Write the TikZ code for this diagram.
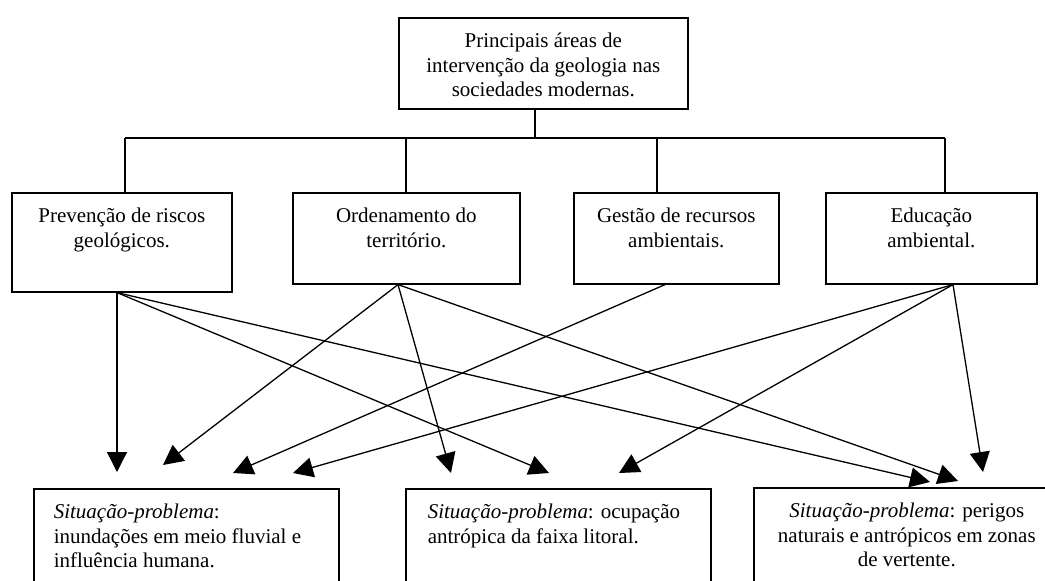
\documentclass[tikz,border=0pt]{standalone}
\usepackage{fontspec}
\setmainfont{Liberation Serif}
\usetikzlibrary{arrows.meta}
\newcommand\boxtxt[4]{\parbox[t][#2pt][t]{#1pt}{#3\rule{0pt}{30pt}#4}}
\begin{document}
\begin{tikzpicture}[x=1pt,y=-1pt,
  box/.style={draw, line width=1.6pt, inner sep=0pt, anchor=north west,
              font=\fontsize{21}{24.5}\selectfont},
  link/.style={line width=1.3pt},
  arr/.style={line width=1.3pt, -{Triangle[length=20pt,width=20pt]}}]
\useasboundingbox (0,0) rectangle (1045,581);
\clip (0,0) rectangle (1045,581);

% top box
\node[box] (top) at (398,17) {\boxtxt{289}{91}{\centering}{Principais áreas de\\intervenção da geologia nas\\sociedades modernas.}};

% middle row
\node[box] (p1) at (11,192)  {\boxtxt{220}{99}{\centering}{Prevenção de riscos\\geológicos.}};
\node[box] (p2) at (292,192) {\boxtxt{227}{91}{\centering}{Ordenamento do\\território.}};
\node[box] (p3) at (573,192) {\boxtxt{205}{91}{\centering}{Gestão de recursos\\ambientais.}};
\node[box] (p4) at (825,192) {\boxtxt{211}{91}{\centering}{Educação\\ambiental.}};

% bottom row
\node[box] (sA) at (33,488)  {\boxtxt{305}{120}{\raggedright\leftskip=20pt}{\textit{Situação-problema}:\\inundações em meio fluvial e\\influência humana.}};
\node[box] (sB) at (405,488) {\boxtxt{305}{120}{\raggedright\leftskip=22pt}{\textit{Situação-problema}: ocupação\\antrópica da faixa litoral.}};
\node[box] (sC) at (753,487) {\boxtxt{306}{120}{\centering}{\textit{Situação-problema}: perigos\\naturais e antrópicos em zonas\\de vertente.}};

% tree connectors
\coordinate (bus) at (535,138);
\coordinate (j1) at (125,138);
\coordinate (j2) at (406,138);
\coordinate (j3) at (657,138);
\coordinate (j4) at (945,138);
\draw[link] (bus |- top.south) -- (bus);
\draw[link] (j1) -- (j4);
\draw[link] (j1) -- (j1 |- p1.north);
\draw[link] (j2) -- (j2 |- p2.north);
\draw[link] (j3) -- (j3 |- p3.north);
\draw[link] (j4) -- (j4 |- p4.north);

% arrow origins
\coordinate (s1) at ([xshift=106pt]p1.south west);
\coordinate (s2) at ([xshift=106pt]p2.south west);
\coordinate (s3) at ([xshift=92pt]p3.south west);
\coordinate (s4) at ([xshift=128pt]p4.south west);

% arrow tips
\coordinate (tA1) at (117,472);
\coordinate (tA2) at (163,465);
\coordinate (tA3) at (233,473);
\coordinate (tA4) at (293,473);
\coordinate (tB2) at (451,473);
\coordinate (tB1) at (549,473);
\coordinate (tB4) at (619,473);
\coordinate (tC1) at (930,482);
\coordinate (tC2) at (958,481);
\coordinate (tC4) at (983,472);

\draw[arr] (s1) -- (tA1);
\draw[arr] (s1) -- (tB1);
\draw[arr] (s1) -- (tC1);
\draw[arr] (s2) -- (tA2);
\draw[arr] (s2) -- (tB2);
\draw[arr] (s2) -- (tC2);
\draw[arr] (s3) -- (tA3);
\draw[arr] (s4) -- (tA4);
\draw[arr] (s4) -- (tB4);
\draw[arr] (s4) -- (tC4);
\end{tikzpicture}
\end{document}
